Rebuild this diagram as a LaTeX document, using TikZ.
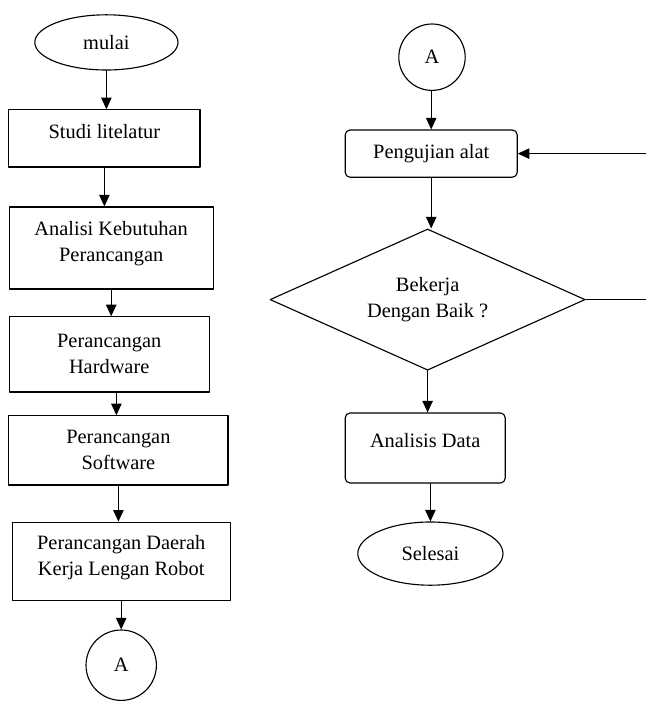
\documentclass[tikz,border=0pt]{standalone}
\usepackage{fontspec}
\setmainfont{Liberation Serif}
\usetikzlibrary{shapes.geometric,arrows.meta}

\begin{document}
\begin{tikzpicture}[line cap=round,line join=round,
    font=\fontsize{14.5}{18.5}\selectfont,
    box/.style={draw,line width=0.8pt,align=center,inner sep=2pt},
    rbox/.style={box,rounded corners=0.12cm},
    term/.style={draw,line width=0.8pt,ellipse,inner sep=0pt},
    conn/.style={draw,line width=0.8pt,circle,inner sep=0pt,minimum size=1.72cm},
    arr/.style={line width=0.8pt,-{Triangle[length=2.9mm,width=2.6mm]}}]
  \useasboundingbox (0,0) rectangle (16.125,-17.55);
  % left column
  \node[term,minimum width=3.58cm,minimum height=1.38cm] (mulai) at (2.66,-1.06) {mulai};
  \node[box,minimum width=4.78cm,minimum height=1.43cm,text depth=0.36cm] (studi) at (2.61,-3.46) {Studi litelatur};
  \node[box,minimum width=5.1cm,minimum height=2.05cm,text depth=0.32cm] (analisi) at (2.78,-6.2) {Analisi Kebutuhan\\Perancangan};
  \node[box,minimum width=5.0cm,minimum height=1.88cm] (hardware) at (2.73,-8.86) {Perancangan\\Hardware};
  \node[box,minimum width=5.48cm,minimum height=1.73cm] (software) at (2.96,-11.26) {Perancangan\\Software};
  \node[box,minimum width=5.45cm,minimum height=1.95cm,text depth=0.3cm] (daerah) at (3.03,-14.03) {Perancangan Daerah\\Kerja Lengan Robot};
  \node[conn,minimum size=1.76cm] (konA) at (3.03,-16.63) {A};
  \draw[arr] (mulai.south) -- (mulai.south |- studi.north);
  \draw[arr] (studi.south) -- (studi.south |- analisi.north);
  \draw[arr] (analisi.south) -- (analisi.south |- hardware.north);
  \draw[arr] (hardware.south) ++(0.18,0) coordinate (hw) -- (hw |- software.north);
  \draw[arr] (software.south) -- (software.south |- daerah.north);
  \draw[arr] (daerah.south) -- (konA.north);
  % right column
  \node[conn,minimum size=1.66cm] (mulaiA) at (10.8,-1.43) {A};
  \node[rbox,minimum width=4.3cm,minimum height=1.18cm] (uji) at (10.78,-3.84) {Pengujian alat};
  \node[draw,line width=0.8pt,diamond,shape aspect=2.23,align=center,inner sep=0pt,
        minimum width=7.88cm,minimum height=3.53cm] (cek) at (10.69,-7.49) {Bekerja\\Dengan Baik ?};
  \node[rbox,minimum width=4.0cm,minimum height=1.75cm,text depth=0.36cm] (data) at (10.63,-11.2) {Analisis Data};
  \node[term,minimum width=3.63cm,minimum height=1.58cm] (selesai) at (10.76,-13.84) {Selesai};
  \coordinate (balik) at (16.2,-7.49);
  \draw[arr] (mulaiA.south -| uji.north) -- (uji.north);
  \draw[arr] (uji.south) -- (uji.south |- cek.north);
  \draw[arr] (cek.south) -- (cek.south |- data.north);
  \draw[arr] (selesai.north |- data.south) -- (selesai.north);
  \draw[arr] (cek.east) -- (balik) |- (uji.east);
\end{tikzpicture}
\end{document}
